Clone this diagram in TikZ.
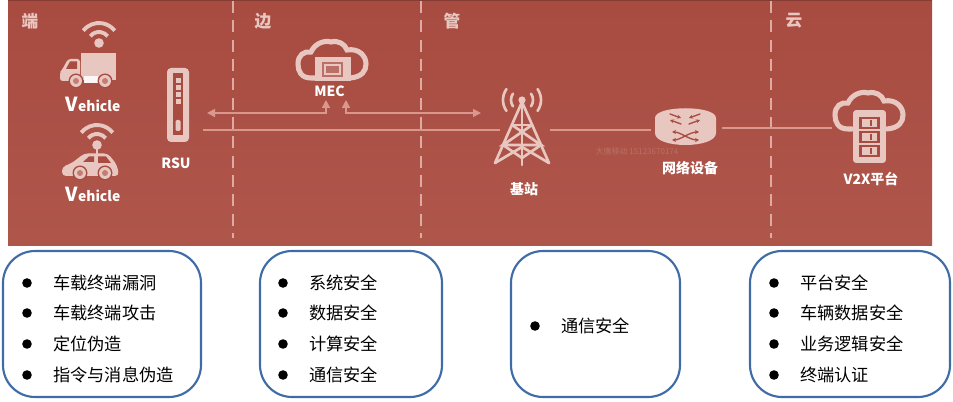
\documentclass[tikz,border=0pt]{standalone}
\usepackage{fontspec}
\setmainfont{Noto Sans CJK SC}
\usetikzlibrary{arrows.meta}
\definecolor{panelTop}{HTML}{A84B41}
\definecolor{panelBot}{HTML}{AF564B}
\definecolor{pale}{HTML}{E9C7C1}
\definecolor{linkc}{HTML}{D9978E}
\definecolor{dashc}{HTML}{DFAAA2}
\definecolor{boxc}{HTML}{3F6CA6}
\newcommand{\ListItem}[4]{%
  \fill (#2-26,#3) circle[radius=4.8];
  \node[itemtext] (#1) at (#2,#3) {#4};}
\tikzset{
  zonelabel/.style={text=pale,font=\fontsize{12.5}{14}\selectfont\bfseries,inner sep=0pt},
  iconlabel/.style={text=white,font=\fontsize{10.5}{12}\selectfont\bfseries,inner sep=0pt},
  itemtext/.style={anchor=west,text=black,font=\fontsize{12.9}{15}\selectfont,inner sep=0pt},
  zonebox/.style={draw=boxc,line width=1.6pt,rounded corners=24pt,fill=white},
  zonedash/.style={draw=dashc,line width=2.1pt,dash pattern=on 9pt off 5.5pt},
  linkline/.style={draw=linkc,line width=1.2pt},
  linkboth/.style={linkline,{Triangle[length=6pt,width=6pt]}-{Triangle[length=6pt,width=6pt]}},
  anchorbox/.style={inner sep=0pt,outer sep=0pt},
  wifi/.pic={
    \fill[pale] (0,0) circle[radius=4.8];
    \draw[pale,line width=2.9pt] (218:11) arc[start angle=218,end angle=322,radius=11];
    \draw[pale,line width=2.9pt] (218:20) arc[start angle=218,end angle=322,radius=20];
  },
  cloudoutline/.pic={
    \draw[pale,line width=3.8pt,line cap=round]
      (-17,16) -- (-21,16) .. controls (-31,16) and (-34,9) .. (-34,2)
      .. controls (-34,-7) and (-28,-11) .. (-21,-10)
      .. controls (-17,-19) and (-7,-22) .. (-1,-20)
      .. controls (6,-22) and (13,-18) .. (15,-12)
      .. controls (27,-14) and (34,-6) .. (34,2)
      .. controls (34,9) and (30,15) .. (18,16);
  }
}
\begin{document}
\begin{tikzpicture}[x=0.75pt,y=-0.75pt]
\useasboundingbox (0,0) rectangle (953,402);
% panel
\shade[top color=panelTop,bottom color=panelBot] (8,0) rectangle (932,246);
\draw[panelTop!80!black,line width=0.8pt] (8,0.5) -- (932,0.5);
% zones
\draw[zonedash] (233,1) -- (233,238);
\draw[zonedash] (421,1) -- (421,238);
\draw[zonedash] (771,1) -- (771,238);
\node[zonelabel] (zoneA) at (30,21) {端};
\node[zonelabel] (zoneB) at (263,21) {边};
\node[zonelabel] (zoneC) at (452,21) {管};
\node[zonelabel] (zoneD) at (794,21) {云};

% Truck
\pic at (99,43) {wifi};
\fill[pale] (81,53) rectangle (116,80);
\fill[pale,rounded corners=2pt] (80,59) -- (68,59) -- (62,70) -- (60,72) -- (60,81) -- (80,81) -- cycle;
\fill[panelTop] (70,61.5) -- (77,61.5) -- (77,69) -- (66,69) -- cycle;
\fill[white!85!pale] (84,76) rectangle (98,83);
\foreach \cx in {76,105}{
  \fill[panelTop] (\cx,81) circle[radius=7.5];
  \fill[pale] (\cx,81) circle[radius=6];
  \fill[panelTop!60!pale] (\cx,81) circle[radius=3];
}
\node[iconlabel,text=white] (veh1) at (93,104.5) {\fontsize{14.5}{14}\selectfont V\fontsize{10.4}{12}\selectfont ehicle};

% Car
\pic at (97,145) {wifi};
\draw[pale,line width=2pt] (97,145) -- (97,155);
\fill[pale,rounded corners=3pt] (62,176) -- (62,167) -- (72,163) -- (84,153.5) -- (108,153.5) -- (117,165) -- (119,176) -- cycle;
\fill[panelTop] (83,162) -- (89,156.5) -- (94,156.5) -- (94,162) -- cycle;
\fill[panelTop] (98,156.5) -- (106,156.5) -- (111,163) -- (98,163) -- cycle;
\foreach \cx in {80,105}{
  \fill[panelTop] (\cx,173) circle[radius=7.5];
  \fill[pale] (\cx,173) circle[radius=6];
  \fill[panelTop!60!pale] (\cx,173) circle[radius=3];
}
\node[iconlabel] (veh2) at (93,194.5) {\fontsize{14.5}{14}\selectfont V\fontsize{10.4}{12}\selectfont ehicle};

% RSU
\node[anchorbox,fill=pale,rounded corners=3pt,minimum width=16.5pt,minimum height=55.5pt] (rsu) at (178,105) {};
\fill[panelTop] (173,73.5) rectangle (183,135);
\foreach \yy in {78,85,92,99} \fill[pale] (175.5,\yy) rectangle (180.5,\yy+5);
\fill[pale,rounded corners=1pt] (175.5,120) rectangle (180.5,131);
\node[iconlabel] (rsuT) at (176,163.5) {RSU};

% MEC
\pic at (332,62) {cloudoutline};
\node[anchorbox,fill=pale,minimum width=27pt,minimum height=18pt] (mec) at (332.5,69) {};
\fill[panelTop!70!pale] (322,62) rectangle (343,77);
\draw[pale,line width=0.8pt] (325,65) rectangle (340,74);
\node[iconlabel] (mecT) at (329.5,91) {MEC};

% Tower
\node[anchorbox,minimum width=42pt,minimum height=60pt] (tower) at (522,126) {};
\begin{scope}[pale,line width=2pt,line cap=round]
\draw (522,102) -- (495,163);
\draw (522,102) -- (549,163);
\draw (522,102) -- (522,165);
\draw (512,125) -- (532,125);
\draw (512,125) -- (541,145) -- (503,145) -- (532,125);
\draw (503,145) -- (522,158) -- (541,145);
\draw (495,163) -- (522,147) -- (549,163);
\end{scope}
\fill[pale] (522,100) circle[radius=3.6];
\foreach \r in {11,19}{
  \draw[pale,line width=2pt,line cap=round] (522,100) ++(-35:\r) arc[start angle=-35,end angle=35,radius=\r];
  \draw[pale,line width=2pt,line cap=round] (522,100) ++(145:\r) arc[start angle=145,end angle=215,radius=\r];
}
\node[iconlabel] (towerT) at (524,189.5) {基站};

% Router
\node[anchorbox,minimum width=45.5pt,minimum height=27pt] (router) at (685.5,127) {};
\fill[pale] (655,118) .. controls (655,105) and (716,105) .. (716,118)
  -- (716,133) .. controls (716,149) and (655,149) .. (655,133) -- cycle;
\begin{scope}[panelTop,line width=1pt,line cap=round,>={Stealth[length=3pt,width=3pt]}]
\draw[->] (670,114) -- (681,118);
\draw[->] (681,124) -- (670,120);
\draw[->] (700,114) -- (689,118);
\draw[->] (689,124) -- (700,120);
\draw[<->] (672,132) .. controls (680,132) and (690,140) .. (699,140);
\draw[<->] (672,140) .. controls (680,140) and (690,132) .. (699,132);
\end{scope}
\node[iconlabel] (routerT) at (690,168.5) {网络设备};
\node[inner sep=0pt,text=panelTop!70!pale,font=\fontsize{6}{7}\selectfont] (mark) at (637,151) {大唐移动 15123670174};

% V2X
\pic at (869,113) {cloudoutline};
\node[anchorbox,fill=pale,rounded corners=2pt,minimum width=24.5pt,minimum height=39.5pt] (v2x) at (869.5,136.5) {};
\foreach \yy in {117,131,145}{
  \fill[panelTop] (859,\yy) rectangle (880,\yy+12.5);
  \fill[pale] (862,\yy+2.5) rectangle (877,\yy+10);
  \fill[panelTop] (870,\yy+3) rectangle (872,\yy+9.5);
}
\node[iconlabel] (v2xT) at (871,179) {V2X平台};

% connectors
\coordinate (a1) at (207,113);
\coordinate (a2) at (326,100);
\coordinate (b1) at (346,100);
\coordinate (b2) at (481,113);
\draw[linkboth] (a1) -- (a2 |- a1) -- (a2);
\draw[linkboth] (b1) -- (b1 |- b2) -- (b2);
\coordinate (c1) at (203,130);
\coordinate (c2) at (500,130);
\coordinate (c3) at (550,130);
\coordinate (c4) at (651,130);
\coordinate (c5) at (722,128);
\coordinate (c6) at (832,128);
\draw[linkline] (c1) -- (c2);
\draw[linkline] (c3) -- (c4);
\draw[linkline] (c5) -- (c6);

% boxes
\draw[zonebox] (3,251) rectangle (201,397);
\draw[zonebox] (260,251) rectangle (442,397);
\draw[zonebox] (511,251) rectangle (680,397);
\draw[zonebox] (750,251) rectangle (950,397);

\ListItem{i11}{53}{283}{车载终端漏洞}
\ListItem{i12}{53}{313}{车载终端攻击}
\ListItem{i13}{53}{344}{定位伪造}
\ListItem{i14}{53}{375}{指令与消息伪造}
\ListItem{i21}{309}{283}{系统安全}
\ListItem{i22}{309}{313}{数据安全}
\ListItem{i23}{309}{344}{计算安全}
\ListItem{i24}{309}{375}{通信安全}
\ListItem{i31}{561}{326}{通信安全}
\ListItem{i41}{800}{283}{平台安全}
\ListItem{i42}{800}{313}{车辆数据安全}
\ListItem{i43}{800}{344}{业务逻辑安全}
\ListItem{i44}{800}{375}{终端认证}
\end{tikzpicture}
\end{document}
